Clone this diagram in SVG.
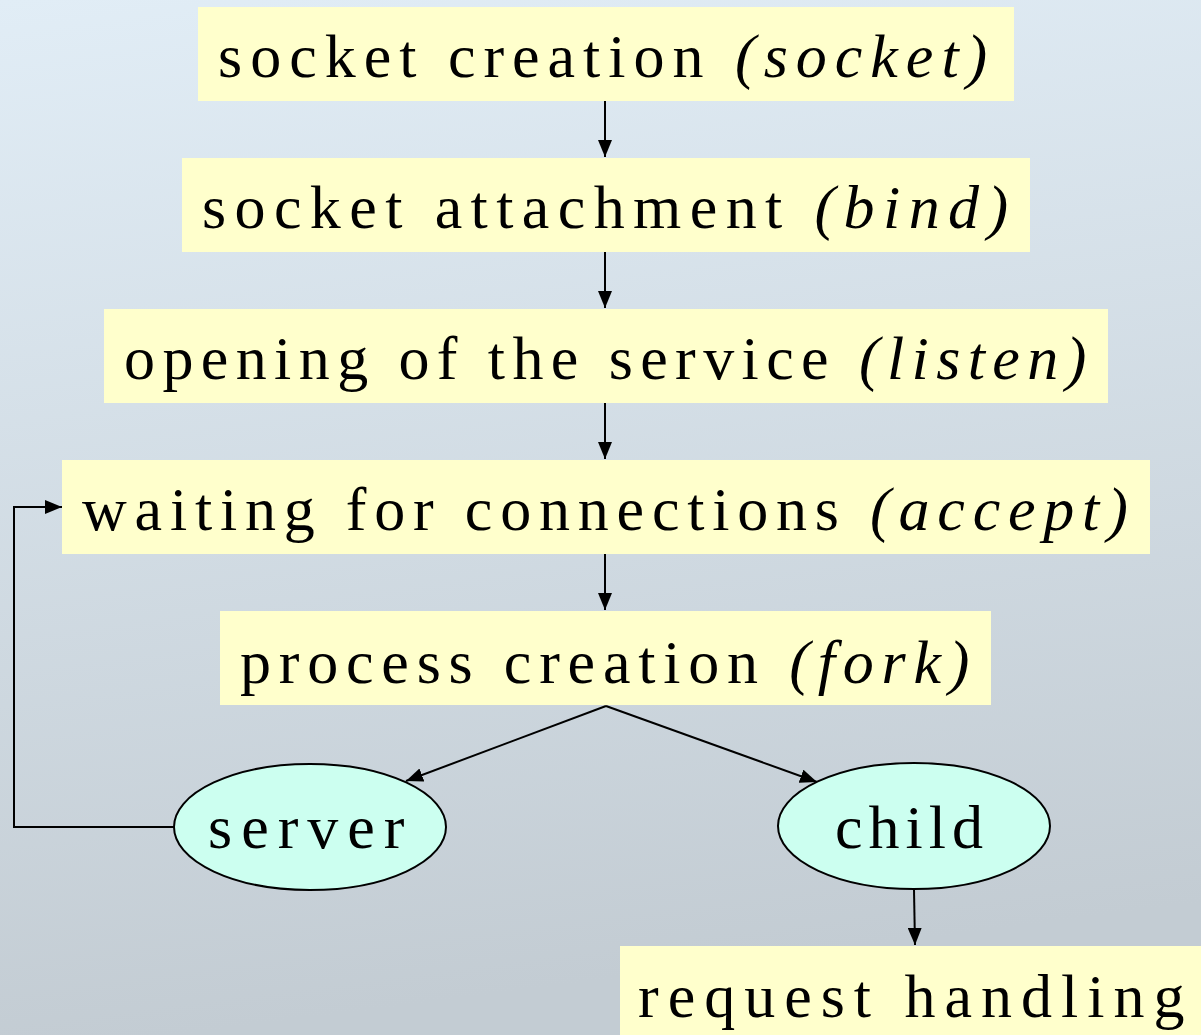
<svg xmlns="http://www.w3.org/2000/svg" width="1201" height="1035" viewBox="0 0 1201 1035">
<defs>
<linearGradient id="bg" x1="0" y1="0" x2="0.15" y2="1">
<stop offset="0" stop-color="#e1edf6"/>
<stop offset="1" stop-color="#c3ccd3"/>
</linearGradient>
<marker id="ah" viewBox="0 0 17 14" refX="17" refY="7" markerWidth="17" markerHeight="14" markerUnits="userSpaceOnUse" orient="auto">
<path d="M0,0 L17,7 L0,14 Z" fill="#000"/>
</marker>
</defs>
<style>
.box{fill:#ffffcc;stroke:none}
.ell{fill:#ccfff0;stroke:#000;stroke-width:2}
.t{font-family:"Liberation Serif","Times New Roman",serif;font-size:62px;fill:#000;letter-spacing:8px}
.i{font-style:italic}
.c{fill:none;stroke:#000;stroke-width:2}
</style>
<rect width="1201" height="1035" fill="url(#bg)"/>
<g id="connectors">
<line class="c" x1="605" y1="101" x2="605" y2="157" marker-end="url(#ah)"/>
<line class="c" x1="605" y1="252" x2="605" y2="308" marker-end="url(#ah)"/>
<line class="c" x1="605" y1="403" x2="605" y2="459" marker-end="url(#ah)"/>
<line class="c" x1="605" y1="554" x2="605" y2="610" marker-end="url(#ah)"/>
<line class="c" x1="606" y1="706" x2="406" y2="781" marker-end="url(#ah)"/>
<line class="c" x1="606" y1="706" x2="817" y2="782" marker-end="url(#ah)"/>
<line class="c" x1="914" y1="890" x2="915" y2="945" marker-end="url(#ah)"/>
<polyline class="c" points="174,827 14,827 14,507 62,507" marker-end="url(#ah)"/>
</g>
<g id="n1"><rect class="box" x="198" y="7" width="816" height="94"/><text class="t" x="218" y="77">socket creation <tspan class="i">(socket)</tspan></text></g>
<g id="n2"><rect class="box" x="182" y="158" width="848" height="94"/><text class="t" x="202" y="228" style="letter-spacing:8.4px">socket attachment <tspan class="i">(bind)</tspan></text></g>
<g id="n3"><rect class="box" x="104" y="309" width="1004" height="94"/><text class="t" x="124" y="379" style="letter-spacing:7.4px">opening of the service <tspan class="i">(listen)</tspan></text></g>
<g id="n4"><rect class="box" x="62" y="460" width="1088" height="94"/><text class="t" x="82" y="530" style="letter-spacing:7.8px">waiting for connections <tspan class="i">(accept)</tspan></text></g>
<g id="n5"><rect class="box" x="220" y="611" width="771" height="94"/><text class="t" x="240" y="683" style="letter-spacing:7.8px">process creation <tspan class="i">(fork)</tspan></text></g>
<g id="n6"><ellipse class="ell" cx="310" cy="827" rx="136" ry="63"/><text class="t" x="208" y="848" style="letter-spacing:9px">server</text></g>
<g id="n7"><ellipse class="ell" cx="914" cy="826" rx="136" ry="63"/><text class="t" x="835" y="848" style="letter-spacing:6px">child</text></g>
<g id="n8"><rect class="box" x="620" y="946" width="581" height="89"/><text class="t" x="638" y="1017" style="letter-spacing:9px">request handling</text></g>
</svg>
